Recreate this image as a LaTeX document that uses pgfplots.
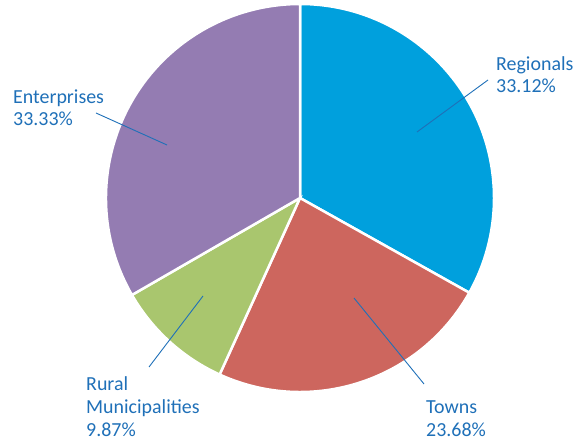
\documentclass[border=0pt]{standalone}
\usepackage{pgfplots}
\pgfplotsset{compat=1.18}
\usepackage{fontspec}
\setmainfont{Carlito}
\definecolor{regcol}{RGB}{0,160,221}
\definecolor{towncol}{RGB}{205,102,94}
\definecolor{ruralcol}{RGB}{169,198,110}
\definecolor{entcol}{RGB}{148,124,178}
\definecolor{txtcol}{RGB}{31,112,184}
\tikzset{lab/.style={anchor=base west, inner sep=0pt, text=txtcol, font=\fontsize{20}{23}\selectfont}}
\begin{document}
\begin{tikzpicture}
\begin{axis}[
  scale only axis, width=579bp, height=442bp,
  xmin=0, xmax=579, ymin=0, ymax=442,
  axis lines=none, clip=false, xtick=\empty, ytick=\empty
]
\coordinate (ll) at (axis cs:0,0);
\coordinate (ur) at (axis cs:579,442);
% slices: Regionals 33.12, Towns 23.68, Rural 9.87, Enterprises 33.33 (clockwise from top)
\fill[regcol, draw=white, line width=2.5bp] (axis cs:300,244) -- ++(90:194bp) arc[start angle=90, end angle=-29.232, radius=194bp] -- cycle;
\fill[towncol, draw=white, line width=2.5bp] (axis cs:300,244) -- ++(-29.232:194bp) arc[start angle=-29.232, end angle=-114.48, radius=194bp] -- cycle;
\fill[ruralcol, draw=white, line width=2.5bp] (axis cs:300,244) -- ++(-114.48:194bp) arc[start angle=-114.48, end angle=-150.012, radius=194bp] -- cycle;
\fill[entcol, draw=white, line width=2.5bp] (axis cs:300,244) -- ++(-150.012:194bp) arc[start angle=-150.012, end angle=-270, radius=194bp] -- cycle;
% leader lines
\addplot[txtcol, line width=0.9bp, forget plot] coordinates {(417,310) (488,362)};
\addplot[txtcol, line width=0.9bp, forget plot] coordinates {(96,329) (167,297)};
\addplot[txtcol, line width=0.9bp, forget plot] coordinates {(203,146) (149,75)};
\addplot[txtcol, line width=0.9bp, forget plot] coordinates {(354,144) (424,58)};
% labels
\node[lab] at (axis cs:496,371) {Regionals};
\node[lab] at (axis cs:496,349) {33.12\%};
\node[lab] at (axis cs:13,338) {Enterprises};
\node[lab] at (axis cs:13,316) {33.33\%};
\node[lab] at (axis cs:86,51) {Rural};
\node[lab] at (axis cs:86,28) {Municipalities};
\node[lab] at (axis cs:86,5) {9.87\%};
\node[lab] at (axis cs:426,28) {Towns};
\node[lab] at (axis cs:426,5) {23.68\%};
\end{axis}
\pgfresetboundingbox
\useasboundingbox (ll) rectangle (ur);
\end{tikzpicture}
\end{document}
